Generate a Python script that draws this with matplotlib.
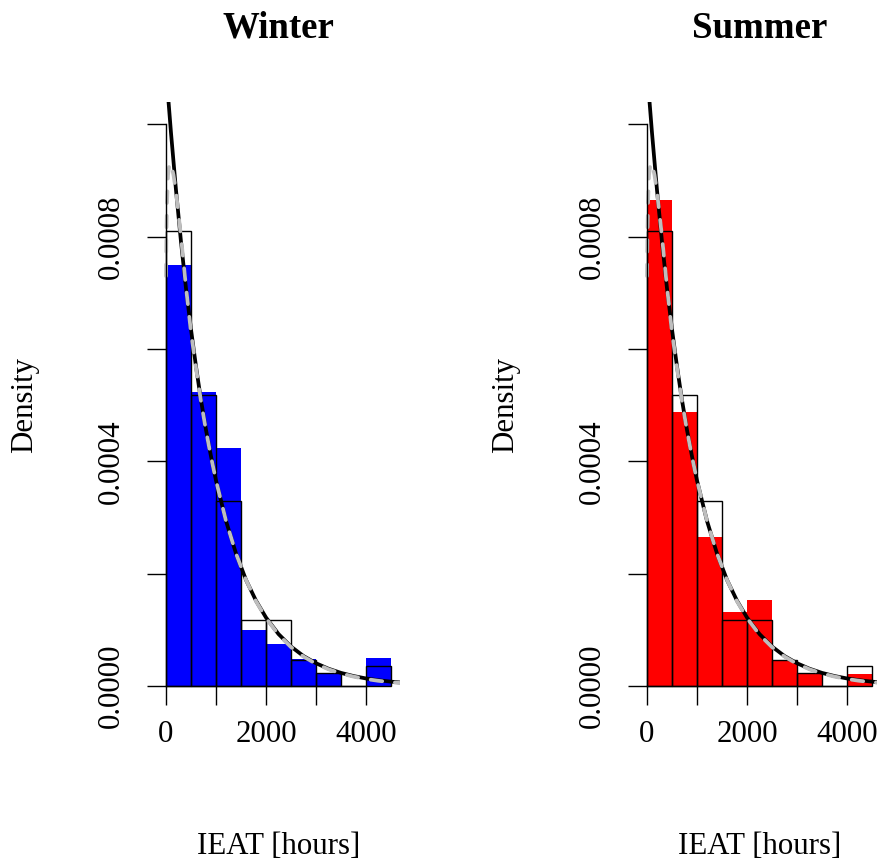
import matplotlib
matplotlib.use("Agg")
import matplotlib.pyplot as plt
import numpy as np

plt.rcParams['font.family'] = ['Liberation Serif', 'DejaVu Serif']

# histogram bins (IEAT hours)
bin_left = [0, 500, 1000, 1500, 2000, 2500, 3000, 3500, 4000]
bin_width = 500

# all-year histogram (outline)
all_density = [0.000811, 0.000518, 0.000329, 0.0001175, 0.0001175,
               0.0000463, 0.0000237, 0.0, 0.0000356]
winter_density = [0.000750, 0.000523, 0.000424, 0.0000997, 0.0000748,
                  0.0000475, 0.0000237, 0.0, 0.0000499]
summer_density = [0.000865, 0.000488, 0.000265, 0.000132, 0.000154,
                  0.0000440, 0.0000226, 0.0, 0.0000214]

# fitted density curves
curve_x = [0, 50, 100, 200, 300, 400, 500, 600, 700, 800, 900, 1000, 1200,
           1400, 1600, 1800, 2000, 2250, 2500, 2750, 3000, 3250, 3500, 3750,
           4000, 4250, 4500, 4700]
black_y = [0.001100, 0.001041, 0.000985, 0.000883, 0.000791, 0.000708,
           0.000635, 0.000569, 0.000509, 0.000456, 0.000409, 0.000366,
           0.000294, 0.000236, 0.000189, 0.000152, 0.000122, 0.0000926,
           0.0000703, 0.0000534, 0.0000406, 0.0000308, 0.0000234, 0.0000178,
           0.0000135, 0.0000103, 0.0000078, 0.0000062]

gray_x = [0, 8, 20, 40, 70, 100, 150, 200, 300, 400, 500, 600, 700, 800,
          900, 1000, 1200, 1400, 1600, 1800, 2000, 2250, 2500, 2750, 3000,
          3250, 3500, 3750, 4000, 4250, 4500, 4700]
gray_y = [0.00073, 0.00080, 0.00086, 0.00091, 0.00093, 0.00093, 0.00091,
          0.00088, 0.00080, 0.00071, 0.00063, 0.000566, 0.000507, 0.000455,
          0.000408, 0.000366, 0.000294, 0.000236, 0.000189, 0.000151,
          0.000121, 0.0000915, 0.0000693, 0.0000524, 0.0000396, 0.0000298,
          0.0000224, 0.0000168, 0.0000125, 0.0000093, 0.0000068, 0.0000053]

panels = [("Winter", winter_density, "#0000FF", 157),
          ("Summer", summer_density, "#FF0000", 638)]

W, H = 877, 861
fig = plt.figure(figsize=(W / 100, H / 100), dpi=100)

fs = 22.2
for title, dens, col, left_px in panels:
    ax = fig.add_axes([left_px / W, (H - 708.5) / H, 243 / W, 606.5 / H])
    ax.set_xlim(-180, 4680)
    ax.set_ylim(-0.00004, 0.00104)

    ax.bar(bin_left, dens, width=bin_width, align='edge', color=col,
           linewidth=0)
    ax.bar(bin_left, all_density, width=bin_width, align='edge', fill=False,
           edgecolor='black', linewidth=1.0)
    ax.plot(curve_x, black_y, color='black', lw=2.7, solid_capstyle='butt')
    ax.plot(gray_x, gray_y, color='#BEBEBE', lw=2.7, dashes=(3.1, 3.4),
            dash_capstyle='round')

    for s in ['top', 'right']:
        ax.spines[s].set_visible(False)
    ax.spines['left'].set_position(('data', 0))
    ax.spines['bottom'].set_position(('data', 0))
    ax.spines['left'].set_bounds(0, 0.001)
    ax.spines['bottom'].set_bounds(0, 4000)
    ax.spines['left'].set_linewidth(1.0)
    ax.spines['bottom'].set_linewidth(1.0)

    ax.set_xticks([0, 1000, 2000, 3000, 4000])
    ax.set_xticklabels(['0', '', '2000', '', '4000'])
    ax.set_yticks([0, 0.0002, 0.0004, 0.0006, 0.0008, 0.001])
    ax.set_yticklabels(['0.0000', '', '0.0004', '', '0.0008', ''])
    ax.tick_params(axis='both', direction='out', length=13.7, width=1.0,
                   labelsize=fs)
    ax.tick_params(axis='x', pad=11)
    ax.tick_params(axis='y', pad=15, labelrotation=90)
    for lab in ax.get_yticklabels():
        lab.set_va('center')
    ax.patch.set_alpha(0)

    cx = (left_px + 121.5) / W
    fig.text(cx, (H - 38) / H, title, ha='center', va='baseline',
             fontsize=26.6, fontweight='bold')
    fig.text(cx, (H - 846) / H, "IEAT [hours]", ha='center', va='center',
             fontsize=fs)
    fig.text((left_px - 132) / W, (H - 405) / H, "Density", ha='center',
             va='center', rotation=90, fontsize=fs)

fig.savefig("out.png", dpi=100)
